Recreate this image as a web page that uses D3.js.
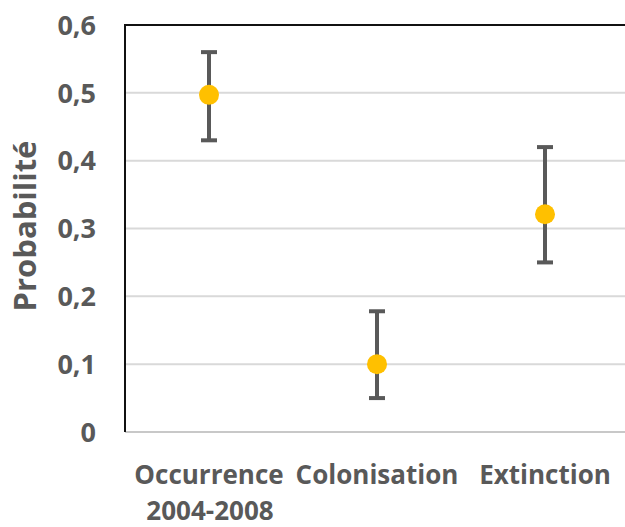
<!DOCTYPE html>
<html>
<head>
<meta charset="utf-8">
<script src="https://cdn.jsdelivr.net/npm/d3@7/dist/d3.min.js"></script>
<style>
body{margin:0;background:white;}
text{font-family:"Open Sans",Lato,sans-serif;font-weight:700;fill:#595959;}
</style>
</head>
<body>
<div id="chart"></div>
<script>
// data
var categories = ["Occurrence\n2004-2008","Colonisation","Extinction"]
var values = [0.497,0.10,0.321]
var lower = [0.43,0.05,0.25]
var upper = [0.56,0.178,0.42]
var yTicks = [0,0.1,0.2,0.3,0.4,0.5,0.6]

var W = 625, H = 527
var mLeft = 125, mTop = 25, mBottom = 432, mRight = 629
var fontSize = 26
var gridColor = "#d9d9d9"
var dotColor = "#FFC000"

var svg = d3.select("#chart").append("svg")
.attr("width",W).attr("height",H)

var x = d3.scaleBand().domain(categories).range([mLeft,mRight])
var y = d3.scaleLinear().domain([0,0.6]).range([mBottom,mTop])

// gridlines
svg.selectAll(".grid").data(yTicks.filter(function(d){return d>0 && d<0.6}))
.enter().append("line")
.attr("x1",mLeft).attr("x2",mRight)
.attr("y1",function(d){return y(d)}).attr("y2",function(d){return y(d)})
.attr("stroke",gridColor).attr("stroke-width",2)

// bottom axis line
svg.append("line").attr("x1",mLeft).attr("x2",mRight)
.attr("y1",y(0)).attr("y2",y(0))
.attr("stroke","#c8c8c8").attr("stroke-width",2)

// top border + left axis
svg.append("line").attr("x1",mLeft).attr("x2",mRight)
.attr("y1",y(0.6)).attr("y2",y(0.6))
.attr("stroke","#111").attr("stroke-width",2)
svg.append("line").attr("x1",mLeft).attr("x2",mLeft)
.attr("y1",y(0.6)-1).attr("y2",y(0))
.attr("stroke","#111").attr("stroke-width",2)

// y tick labels
svg.selectAll(".ylab").data(yTicks).enter().append("text")
.attr("x",96).attr("y",function(d){return y(d)})
.attr("dy","0.36em")
.attr("text-anchor","end")
.attr("font-size",27)
.text(function(d){return d===0 ? "0" : d3.format(".1f")(d).replace(".",",")})

// y title
svg.append("text")
.attr("transform","translate(36,226) rotate(-90)")
.attr("text-anchor","middle")
.attr("font-size",31)
.text("Probabilité")

// category labels
var cx = function(d){return x(d)+x.bandwidth()/2}
svg.selectAll(".xlab").data(categories).enter().append("text")
.attr("text-anchor","middle")
.attr("font-size",fontSize)
.each(function(d){
var lines = d.split("\n")
var t = d3.select(this)
lines.forEach(function(l,i){
t.append("tspan").attr("x",cx(d)+(i>0?1:0)).attr("y",484+i*36).text(l)
})
})

// error bars
var eb = svg.selectAll(".err").data(categories).enter().append("g")
.attr("stroke","#595959").attr("stroke-width",4)
eb.append("line")
.attr("x1",cx).attr("x2",cx)
.attr("y1",function(d,i){return y(lower[i])})
.attr("y2",function(d,i){return y(upper[i])})
eb.append("line")
.attr("x1",function(d){return cx(d)-8}).attr("x2",function(d){return cx(d)+8})
.attr("y1",function(d,i){return y(lower[i])}).attr("y2",function(d,i){return y(lower[i])})
eb.append("line")
.attr("x1",function(d){return cx(d)-8}).attr("x2",function(d){return cx(d)+8})
.attr("y1",function(d,i){return y(upper[i])}).attr("y2",function(d,i){return y(upper[i])})

// points
svg.selectAll(".dot").data(categories).enter().append("circle")
.attr("cx",cx)
.attr("cy",function(d,i){return y(values[i])})
.attr("r",10)
.attr("fill",dotColor)
</script>
</body>
</html>
